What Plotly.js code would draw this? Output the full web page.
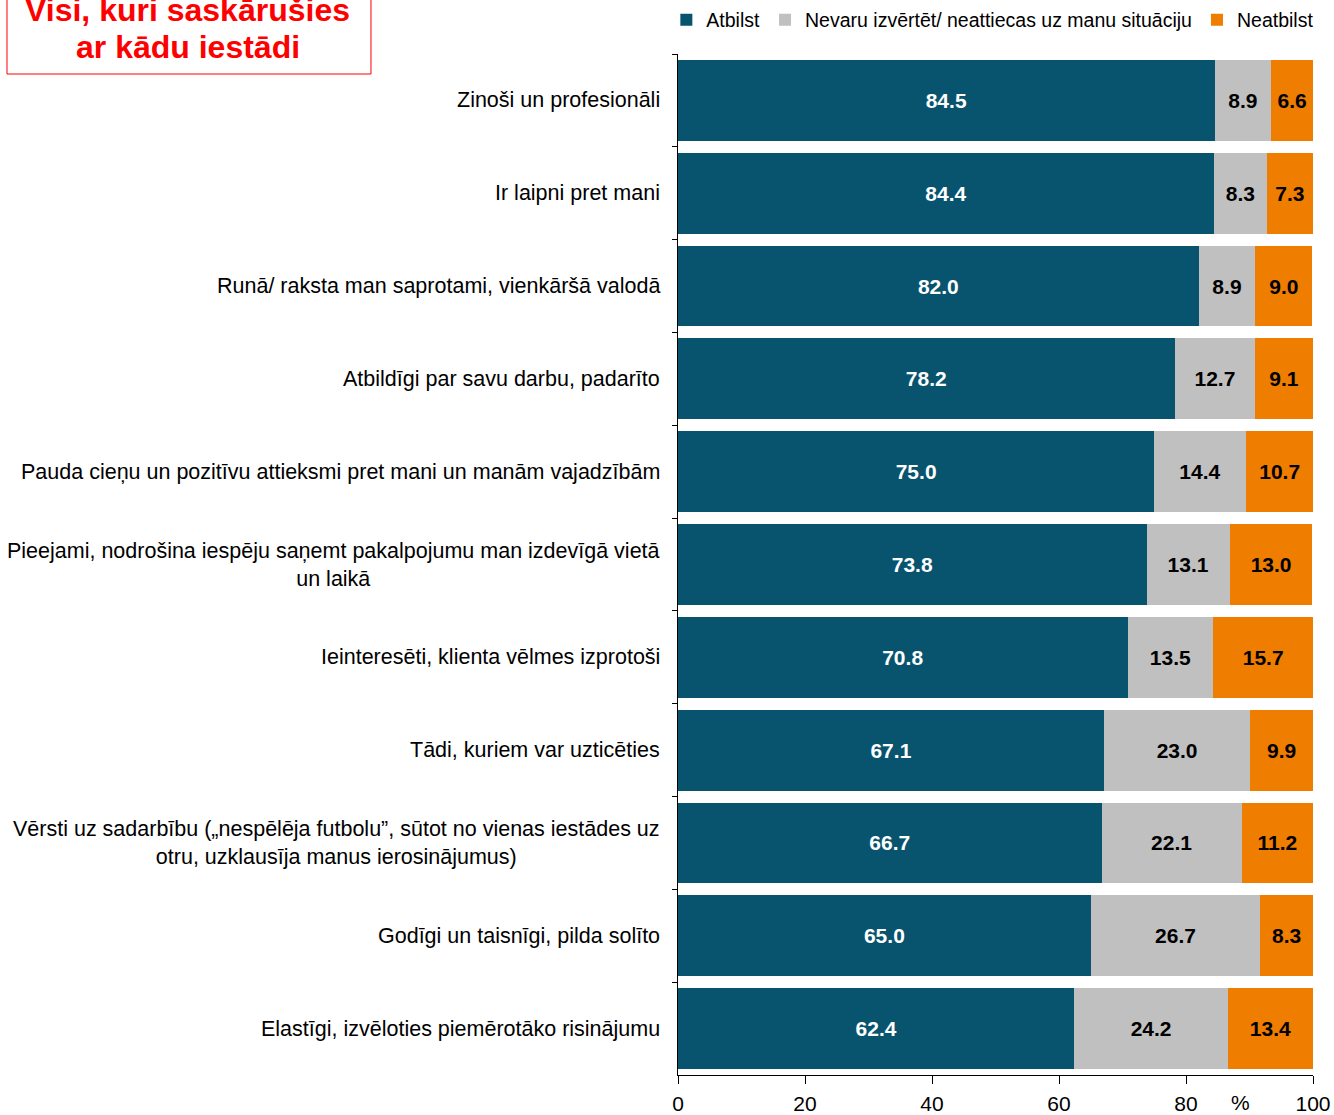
<!DOCTYPE html>
<html>
<head>
<meta charset="utf-8">
<script src="https://cdn.plot.ly/plotly-3.0.1.min.js"></script>
<style>html,body{margin:0;padding:0;background:#fff;}#chart{width:1334px;height:1115px;}</style>
</head>
<body>
<div id="chart"></div>
<script>
const categories = [
  "Zinoši un profesionāli",
  "Ir laipni pret mani",
  "Runā/ raksta man saprotami, vienkāršā valodā",
  "Atbildīgi par savu darbu, padarīto",
  "Pauda cieņu un pozitīvu attieksmi pret mani un manām vajadzībām",
  "Pieejami, nodrošina iespēju saņemt pakalpojumu man izdevīgā vietā<br>un laikā",
  "Ieinteresēti, klienta vēlmes izprotoši",
  "Tādi, kuriem var uzticēties",
  "Vērsti uz sadarbību („nespēlēja futbolu”, sūtot no vienas iestādes uz<br>otru, uzklausīja manus ierosinājumus)",
  "Godīgi un taisnīgi, pilda solīto",
  "Elastīgi, izvēloties piemērotāko risinājumu"
];
const atbilst   = [84.5, 84.4, 82.0, 78.2, 75.0, 73.8, 70.8, 67.1, 66.7, 65.0, 62.4];
const nevaru    = [8.9, 8.3, 8.9, 12.7, 14.4, 13.1, 13.5, 23.0, 22.1, 26.7, 24.2];
const neatbilst = [6.6, 7.3, 9.0, 9.1, 10.7, 13.0, 15.7, 9.9, 11.2, 8.3, 13.4];
const seriesNames = ["Atbilst", "Nevaru izvērtēt/ neattiecas uz manu situāciju", "Neatbilst"];
const xTicks = [0, 20, 40, 60, 80, 100];
const titleLines = ["Visi, kuri saskārušies", "ar kādu iestādi"];

const FONT = "Liberation Sans, Arial, sans-serif";
function mk(vals, name, color, txtColor) {
  return {
    type: "bar", orientation: "h", y: categories, x: vals, name: name,
    marker: {color: color, line: {width: 0}},
    texttemplate: "%{x:.1f}", textposition: "inside", insidetextanchor: "middle",
    textangle: 0, constraintext: "none",
    textfont: {family: FONT, size: 21, color: txtColor, weight: "bold"},
    hoverinfo: "skip"
  };
}
const data = [
  mk(atbilst, seriesNames[0], "#08546F", "#ffffff"),
  mk(nevaru, seriesNames[1], "#C0C0C0", "#000000"),
  mk(neatbilst, seriesNames[2], "#EE7D00", "#000000")
];

const annotations = categories.map(c => ({
  xref: "paper", yref: "y", x: 0, y: c, xshift: -16,
  xanchor: "right", yanchor: "middle", align: "center",
  text: c, showarrow: false,
  font: {family: FONT, size: 21.5, color: "#000"}
}));
const titleY = [1.0431, 1.0069];
titleLines.forEach((t, i) => annotations.push({
  xref: "paper", yref: "paper", x: -0.7717, y: titleY[i], xanchor: "center", yanchor: "middle",
  text: "<b>" + t + "</b>", showarrow: false,
  font: {family: FONT, size: 32, color: "#FF0000"}
}));
annotations.push({
  xref: "paper", yref: "paper", x: 0.8866, y: -0.0274, xanchor: "center", yanchor: "middle",
  text: "%", showarrow: false, font: {family: FONT, size: 21, color: "#000"}
});

const layout = {
  width: 1334, height: 1115,
  margin: {l: 678, r: 21, t: 54, b: 40, pad: 0, autoexpand: false},
  paper_bgcolor: "#fff", plot_bgcolor: "#fff",
  barmode: "stack", bargap: 0.13,
  font: {family: FONT, color: "#000"},
  showlegend: true,
  legend: {
    orientation: "h", x: 1.01, xanchor: "right", y: 1.0333, yanchor: "middle",
    font: {family: FONT, size: 19.5, color: "#000"},
    traceorder: "normal", itemwidth: 30
  },
  xaxis: {
    range: [0, 100], tickvals: xTicks, ticktext: xTicks.map(String),
    showgrid: false, zeroline: false, showline: true, linecolor: "#000", linewidth: 1,
    ticks: "outside", ticklen: 8, tickcolor: "#000", ticklabelstandoff: 2,
    tickfont: {family: FONT, size: 21, color: "#000"}, fixedrange: true
  },
  yaxis: {
    type: "category", autorange: "reversed", showticklabels: false,
    showgrid: false, zeroline: false, showline: true, linecolor: "#000", linewidth: 1,
    ticks: "outside", tickson: "boundaries", ticklen: 5, tickcolor: "#000", fixedrange: true
  },
  shapes: [{
    type: "rect", xref: "paper", yref: "paper",
    x0: -1.0567, x1: -0.4835, y0: 0.9804, y1: 1.0578,
    line: {color: "#FF0000", width: 1}, fillcolor: "rgba(0,0,0,0)", layer: "below"
  }],
  annotations: annotations
};

Plotly.newPlot("chart", data, layout, {displayModeBar: false, staticPlot: true});
</script>
</body>
</html>
